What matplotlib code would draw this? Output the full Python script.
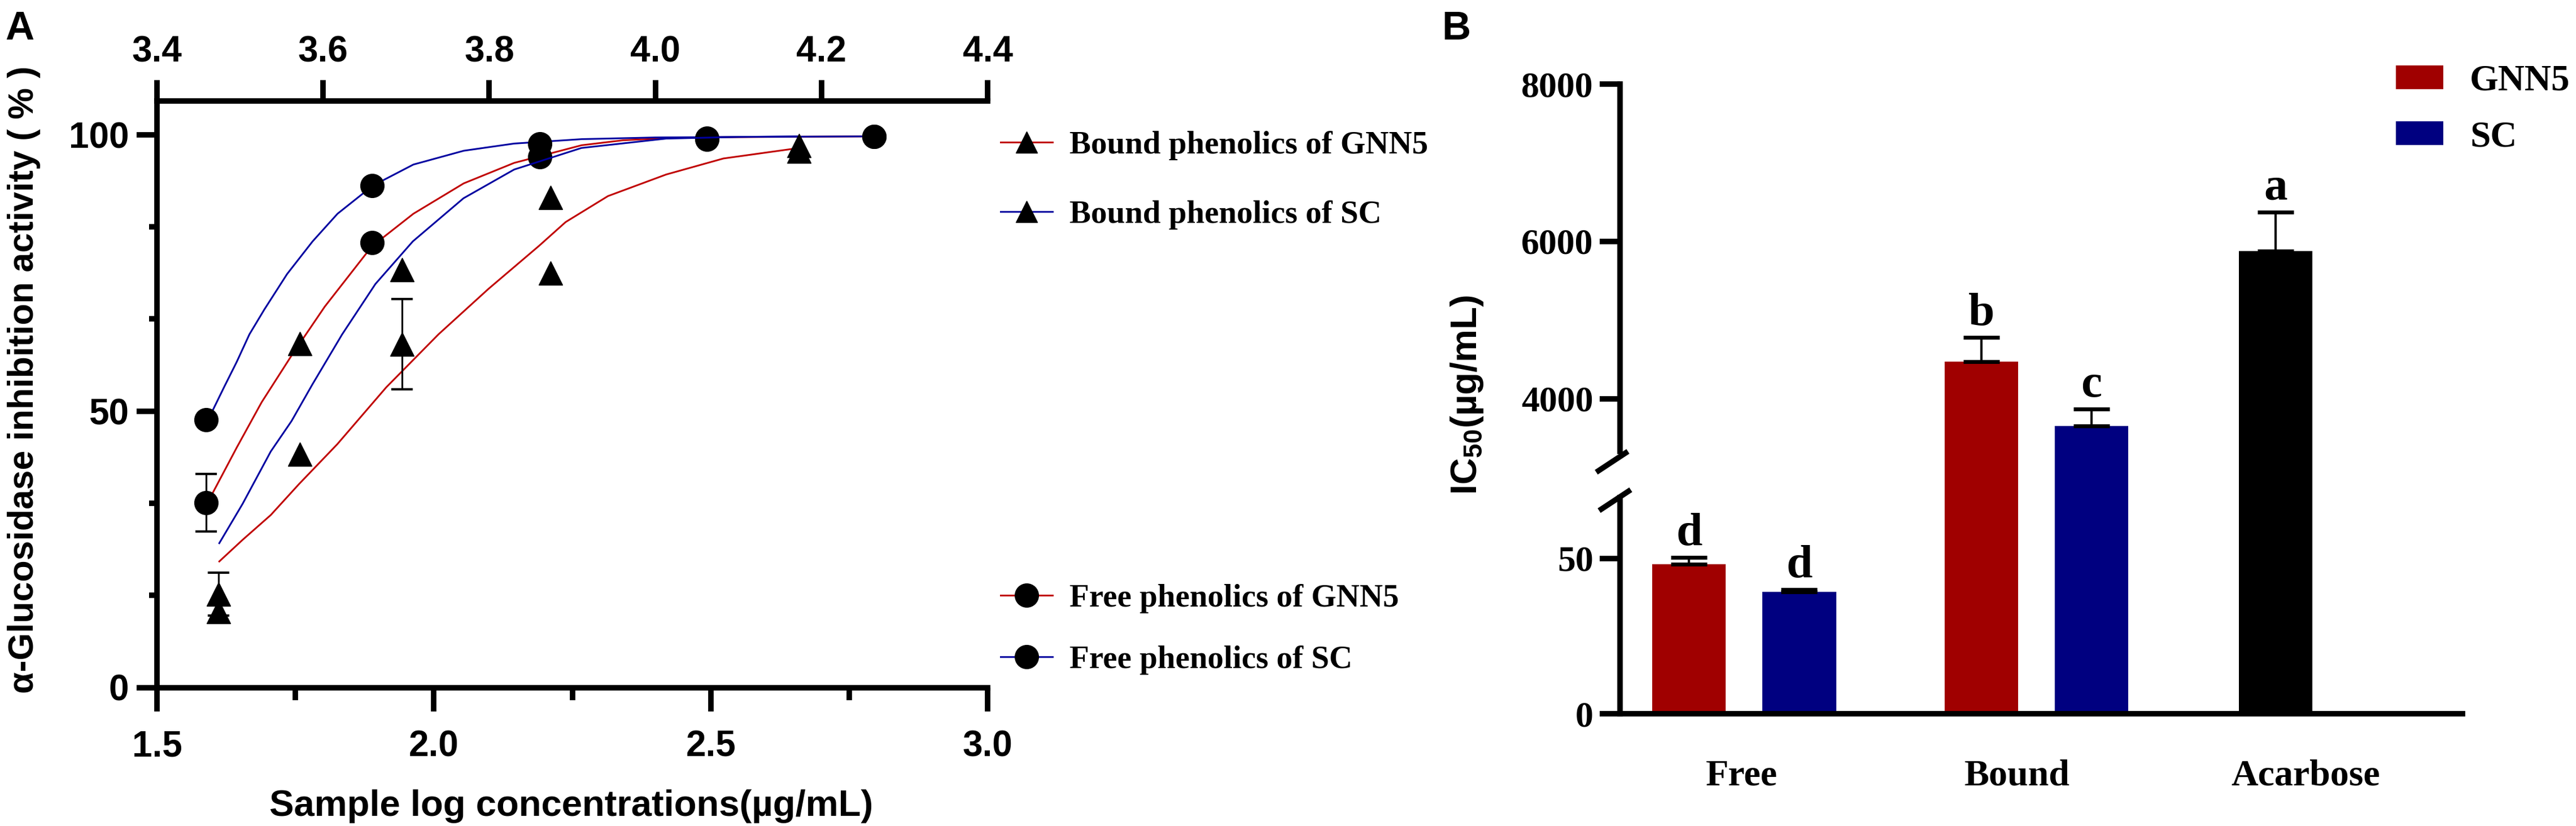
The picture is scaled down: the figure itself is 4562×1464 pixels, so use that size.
import matplotlib
matplotlib.use('Agg')
import matplotlib.pyplot as plt
from matplotlib.lines import Line2D
from matplotlib.patches import Patch
from matplotlib.ticker import MultipleLocator, FixedLocator
from matplotlib.font_manager import FontProperties
import numpy as np

plt.rcParams['mathtext.fontset'] = 'custom'
plt.rcParams['mathtext.rm'] = 'Liberation Sans:bold'
plt.rcParams['mathtext.it'] = 'Liberation Sans:bold'
plt.rcParams['mathtext.bf'] = 'Liberation Sans:bold'
plt.rcParams['mathtext.default'] = 'rm'

SANS = 'Liberation Sans'
SERIF = 'Liberation Serif'

# ---------------- Panel A data (log concentration vs inhibition %) ----------------
free_logc = [1.589, 1.889, 2.191, 2.493, 2.795]
free_gnn5 = [33.4, 80.5, 96.0, 99.2, 99.7]
free_gnn5_err = [5.2, 0, 0, 0, 0]
free_sc = [48.4, 90.8, 98.3, 99.4, 99.7]
free_sc_err = [0, 0, 0, 0, 0]

bound_logc = [3.474, 3.572, 3.695, 3.874, 4.173]
bound_gnn5 = [13.7, 42.2, 62.1, 75.0, 97.0]
bound_gnn5_err = [0, 0, 8.2, 0, 0]
bound_sc = [16.9, 62.2, 75.6, 88.6, 98.0]
bound_sc_err = [3.9, 0, 0, 0, 0]

# fitted dose-response curves
fit_free_sc_x = [1.589, 1.601, 1.621, 1.644, 1.667, 1.694, 1.735, 1.781, 1.826, 1.890,
                 1.963, 2.054, 2.145, 2.267, 2.40, 2.55, 2.795]
fit_free_sc_y = [48.6, 50.2, 54.3, 58.9, 63.9, 68.4, 74.8, 80.7, 85.7, 90.8,
                 94.6, 97.1, 98.4, 99.2, 99.5, 99.6, 99.7]
fit_free_gnn5_x = [1.589, 1.597, 1.644, 1.689, 1.744, 1.803, 1.888, 1.963, 2.054, 2.145,
                   2.267, 2.342, 2.45, 2.60, 2.795]
fit_free_gnn5_y = [33.6, 34.5, 43.4, 51.6, 60.2, 68.9, 79.8, 85.7, 91.2, 94.9,
                   98.1, 99.0, 99.5, 99.6, 99.7]
fit_bound_sc_x = [3.475, 3.503, 3.537, 3.562, 3.587, 3.623, 3.663, 3.708, 3.769, 3.830,
                  3.911, 4.013, 4.10, 4.173]
fit_bound_sc_y = [26.1, 33.2, 42.7, 48.2, 54.8, 63.9, 73.0, 80.7, 88.5, 93.7,
                  97.6, 99.3, 99.6, 99.7]
fit_bound_gnn5_x = [3.475, 3.503, 3.537, 3.571, 3.617, 3.676, 3.739, 3.799, 3.860, 3.892,
                    3.943, 4.013, 4.082, 4.173]
fit_bound_gnn5_y = [22.8, 26.7, 31.2, 36.8, 44.0, 54.3, 63.9, 72.1, 79.9, 84.2,
                    88.9, 92.8, 95.7, 97.6]

legend_a_labels = ['Bound phenolics of GNN5', 'Bound phenolics of SC',
                   'Free phenolics of GNN5', 'Free phenolics of SC']

# ---------------- Panel B data (IC50) ----------------
categories = ['Free', 'Bound', 'Acarbose']
gnn5_ic50 = [48.2, 4473]
gnn5_ic50_err = [2.2, 308]
sc_ic50 = [39.3, 3656]
sc_ic50_err = [0.7, 215]
acarbose_ic50 = 5878
acarbose_ic50_err = 495
gnn5_letters = ['d', 'b']
sc_letters = ['d', 'c']
acarbose_letter = 'a'
series_b = ['GNN5', 'SC']

# ---------------- styling ----------------
RED_L = '#C00000'
BLUE_L = '#0000A0'
RED_B = '#A00000'
BLUE_B = '#000080'
W, H = 4562, 1464
fig = plt.figure(figsize=(W / 100, H / 100), dpi=100)

def fx(px):
    return px / W

def fy(py):
    return 1 - py / H

# ---------------- Panel A ----------------
axA = fig.add_axes([fx(278), fy(1218.5), fx(1749) - fx(278), fy(179) - fy(1218.5)])
axT = axA.twiny()
axA.set_xlim(1.5, 3.0)
axT.set_xlim(3.4, 4.4)
axA.set_ylim(0, 106.1)

LW = 2.2
MS = 30
axA.plot(fit_free_gnn5_x, fit_free_gnn5_y, color=RED_L, lw=LW, zorder=2)
axA.plot(fit_free_sc_x, fit_free_sc_y, color=BLUE_L, lw=LW, zorder=2)
axT.plot(fit_bound_gnn5_x, fit_bound_gnn5_y, color=RED_L, lw=LW, zorder=2)
axT.plot(fit_bound_sc_x, fit_bound_sc_y, color=BLUE_L, lw=LW, zorder=2)

def draw_points(ax, x, y, err, marker):
    x = np.asarray(x); y = np.asarray(y); err = np.asarray(err)
    m = err > 0
    if m.any():
        ax.errorbar(x[m], y[m], yerr=err[m], fmt='none', ecolor='black',
                    elinewidth=2.3, capsize=14, capthick=3, zorder=3)
    ax.plot(x, y, linestyle='none', marker=marker, ms=MS, mfc='black', mec='black', zorder=4)

draw_points(axA, free_logc, free_gnn5, free_gnn5_err, 'o')
draw_points(axA, free_logc, free_sc, free_sc_err, 'o')
draw_points(axT, bound_logc, bound_gnn5, bound_gnn5_err, '^')
draw_points(axT, bound_logc, bound_sc, bound_sc_err, '^')

SPW = 7
for s in ['right', 'top']:
    axA.spines[s].set_visible(False)
for s in ['right', 'bottom', 'left']:
    axT.spines[s].set_visible(False)
axA.spines['left'].set_linewidth(SPW)
axA.spines['bottom'].set_linewidth(SPW)
axT.spines['top'].set_linewidth(SPW)

axA.set_xticks([1.5, 2.0, 2.5, 3.0])
axA.set_xticklabels(['1.5', '2.0', '2.5', '3.0'])
axA.xaxis.set_minor_locator(FixedLocator([1.75, 2.25, 2.75]))
axA.set_yticks([0, 50, 100])
axA.yaxis.set_minor_locator(MultipleLocator(50 / 3))
axT.set_xticks([3.4, 3.6, 3.8, 4.0, 4.2, 4.4])
axT.set_xticklabels(['3.4', '3.6', '3.8', '4.0', '4.2', '4.4'])

axA.tick_params(axis='x', which='major', length=30, width=SPW, pad=24)
axA.tick_params(axis='x', which='minor', length=16, width=SPW)
axA.tick_params(axis='y', which='major', length=26, width=SPW, pad=10)
axA.tick_params(axis='y', which='minor', length=10, width=SPW)
axT.tick_params(axis='x', which='major', length=27, width=SPW, pad=14)
for lab in axA.get_xticklabels() + axA.get_yticklabels() + axT.get_xticklabels():
    lab.set_fontfamily(SANS)
    lab.set_fontweight('bold')
    lab.set_fontsize(46)

axA.set_xlabel('Sample log concentrations(µg/mL)', fontfamily=SANS, fontweight='bold',
               fontsize=47, va='center')
axA.xaxis.set_label_coords((1012 - 278) / 1471, (1218.5 - 1429) / 1039.5)
axA.set_ylabel('α-Glucosidase inhibition activity ( % )', fontfamily=SANS, fontweight='bold',
               fontsize=45, va='center')
axA.yaxis.set_label_coords((42 - 278) / 1471, (1218.5 - 672.5) / 1039.5)

legA_font = FontProperties(family=SERIF, weight='bold', size=41)
hA = [Line2D([], [], color=RED_L, lw=LW, marker='^', ms=27, mfc='k', mec='k'),
      Line2D([], [], color=BLUE_L, lw=LW, marker='^', ms=27, mfc='k', mec='k'),
      Line2D([], [], color=RED_L, lw=LW, marker='o', ms=30, mfc='k', mec='k'),
      Line2D([], [], color=BLUE_L, lw=LW, marker='o', ms=30, mfc='k', mec='k')]
fig.legend(handles=hA[:2], labels=legend_a_labels[:2], loc='center left',
           bbox_to_anchor=(fx(1772), fy(319.5)), frameon=False, prop=legA_font,
           handlelength=1.61, handletextpad=0.53, labelspacing=1.25,
           borderpad=0, borderaxespad=0)
fig.legend(handles=hA[2:], labels=legend_a_labels[2:], loc='center left',
           bbox_to_anchor=(fx(1772), fy(1115.5)), frameon=False, prop=legA_font,
           handlelength=1.61, handletextpad=0.53, labelspacing=1.0,
           borderpad=0, borderaxespad=0)

# ---------------- Panel B ----------------
xl, xr = 2869, 4361
axU = fig.add_axes([fx(xl), fy(841), fx(xr) - fx(xl), fy(149) - fy(841)])
axL = fig.add_axes([fx(xl), fy(1265), fx(xr) - fx(xl), fy(841) - fy(1265)])
axU.set_ylim(3039, 8000)
axL.set_ylim(0, 77.09)
for ax in (axU, axL):
    ax.set_xlim(-0.628, 7.023)
    ax.spines['right'].set_visible(False)
    ax.spines['top'].set_visible(False)
    ax.spines['left'].set_linewidth(SPW)
    ax.patch.set_alpha(0)
axU.spines['bottom'].set_visible(False)
axL.spines['bottom'].set_linewidth(SPW)
axU.spines['left'].set_bounds(3333, 8000)
axL.spines['left'].set_bounds(0, 69.6)

bar_w = 0.667
pos_gnn5 = [0.0, 2.654]
pos_sc = [1.0, 3.654]
pos_acarbose = 5.326
label_pos = [0.479, 2.98, 5.597]

ekw = dict(elinewidth=3, capsize=23, capthick=5, ecolor='black')
# free (lower axes only)
axL.bar(pos_gnn5[0], gnn5_ic50[0], width=bar_w, color=RED_B,
        yerr=[[0], [gnn5_ic50_err[0]]], error_kw=ekw, zorder=2)
axL.bar(pos_sc[0], sc_ic50[0], width=bar_w, color=BLUE_B,
        yerr=[[0], [sc_ic50_err[0]]], error_kw=ekw, zorder=2)
# bound and acarbose (span both axes)
for ax in (axU, axL):
    kw = dict(yerr=None)
    axb = ax is axU
    ax.bar(pos_gnn5[1], gnn5_ic50[1], width=bar_w, color=RED_B, zorder=2,
           yerr=[[0], [gnn5_ic50_err[1]]] if axb else None, error_kw=ekw)
    ax.bar(pos_sc[1], sc_ic50[1], width=bar_w, color=BLUE_B, zorder=2,
           yerr=[[0], [sc_ic50_err[1]]] if axb else None, error_kw=ekw)
    ax.bar(pos_acarbose, acarbose_ic50, width=bar_w, color='black', zorder=2,
           yerr=[[0], [acarbose_ic50_err]] if axb else None, error_kw=ekw)

letter_kw = dict(textcoords='offset points', xytext=(0, 16), ha='center', va='baseline',
                 fontfamily=SERIF, fontweight='bold', fontsize=60)
axL.annotate(gnn5_letters[0], xy=(pos_gnn5[0], gnn5_ic50[0] + gnn5_ic50_err[0]), **letter_kw)
axL.annotate(sc_letters[0], xy=(pos_sc[0], sc_ic50[0] + sc_ic50_err[0]), **letter_kw)
axU.annotate(gnn5_letters[1], xy=(pos_gnn5[1], gnn5_ic50[1] + gnn5_ic50_err[1]), **letter_kw)
axU.annotate(sc_letters[1], xy=(pos_sc[1], sc_ic50[1] + sc_ic50_err[1]), **letter_kw)
axU.annotate(acarbose_letter, xy=(pos_acarbose, acarbose_ic50 + acarbose_ic50_err), **letter_kw)

axU.set_xticks([])
axU.set_yticks([4000, 6000, 8000])
axL.set_yticks([0, 50])
axL.set_xticks(label_pos)
axL.set_xticklabels(categories)
axU.tick_params(axis='y', length=26, width=SPW, pad=8)
axL.tick_params(axis='y', length=26, width=SPW, pad=8)
axL.tick_params(axis='x', length=0, pad=58)
for lab in axU.get_yticklabels() + axL.get_yticklabels():
    lab.set_fontfamily(SERIF); lab.set_fontweight('bold'); lab.set_fontsize(46)
for lab in axL.get_xticklabels():
    lab.set_fontfamily(SERIF); lab.set_fontweight('bold'); lab.set_fontsize(47.5)

# axis break marks
brk = dict(color='black', lw=SPW, clip_on=False, solid_capstyle='butt')
axU.plot([-0.0282, 0.00938], [0.00578, 0.0592], transform=axU.transAxes, **brk)
axL.plot([-0.0248, 0.01273], [0.849, 0.9363], transform=axL.transAxes, **brk)

fig.text(fx(2598), fy(700), r'IC$_{50}$(µg/mL)', rotation=90, ha='center', va='center',
         fontfamily=SANS, fontweight='bold', fontsize=47)

legB_font = FontProperties(family=SERIF, weight='bold', size=47)
hB = [Patch(facecolor=RED_B), Patch(facecolor=BLUE_B)]
fig.legend(handles=hB, labels=series_b, loc='center left',
           bbox_to_anchor=(fx(4243), fy(193.5)), frameon=False, prop=legB_font,
           handlelength=1.29, handleheight=0.62, handletextpad=0.72, labelspacing=0.6,
           borderpad=0, borderaxespad=0)

# panel letters
fig.text(fx(9), fy(70), 'A', fontfamily=SANS, fontweight='bold', fontsize=51, va='baseline')
fig.text(fx(2553), fy(70), 'B', fontfamily=SANS, fontweight='bold', fontsize=51, va='baseline')

fig.savefig('out.png', dpi=100)
